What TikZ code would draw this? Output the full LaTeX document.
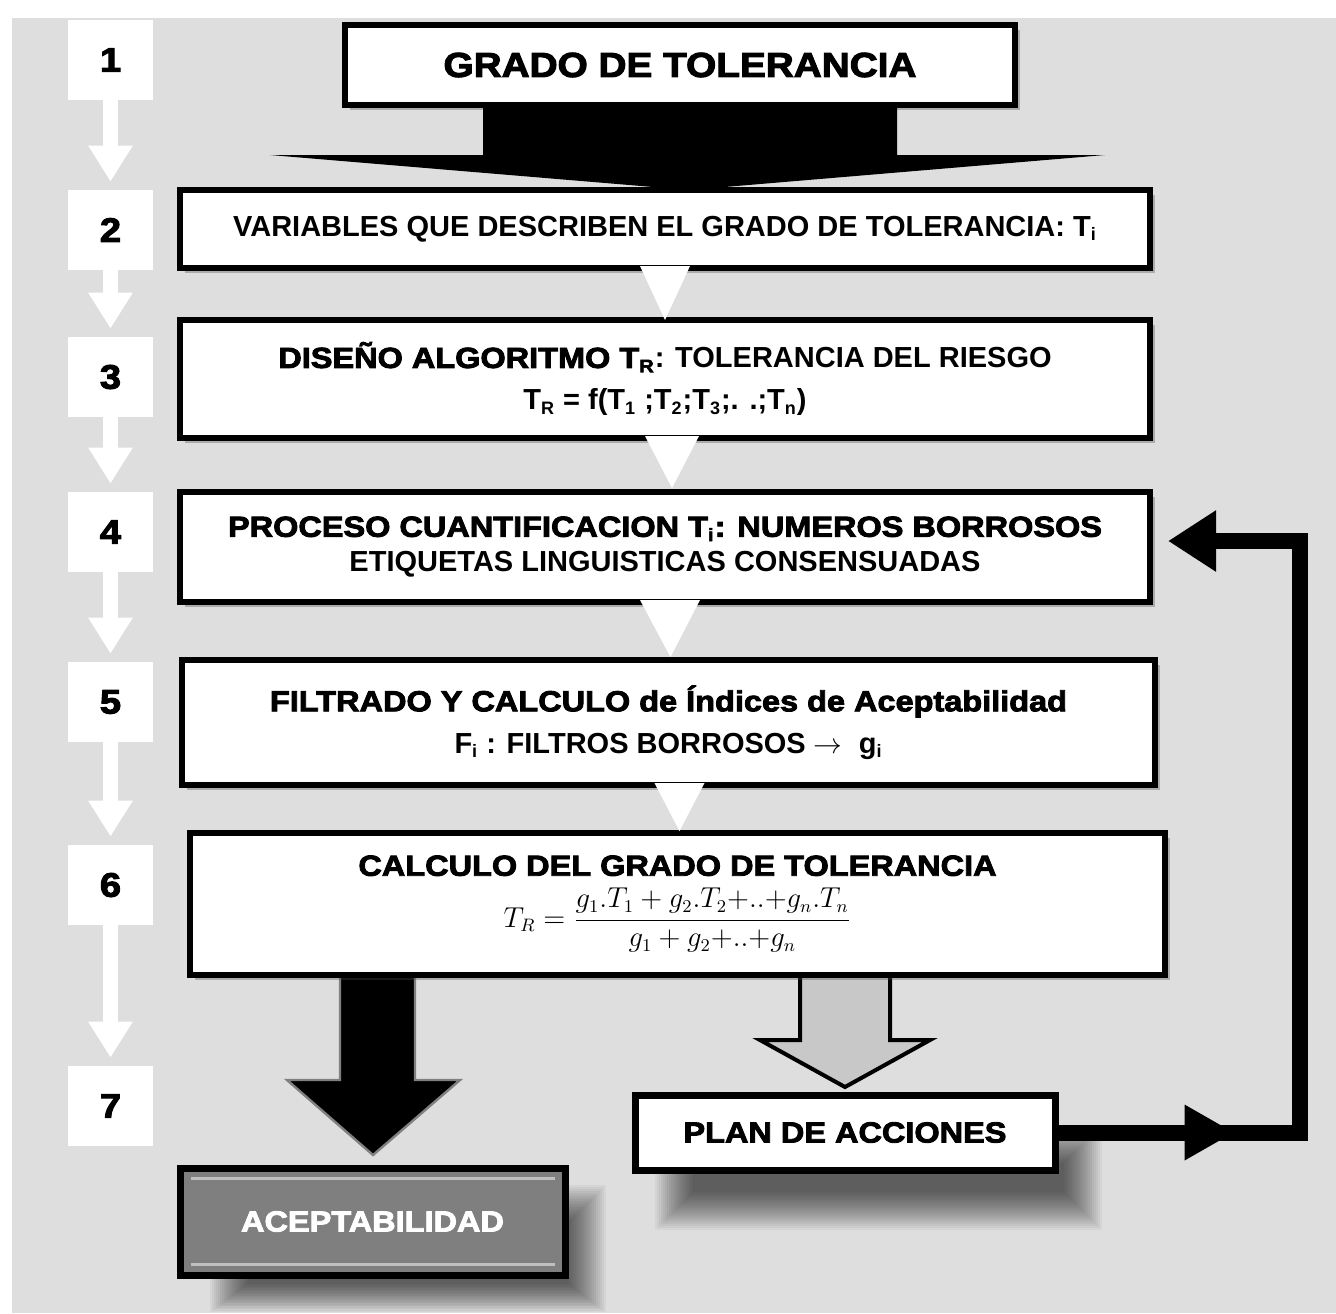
\documentclass[tikz,border=0pt]{standalone}
\usepackage{fontspec}
\setmainfont{Liberation Sans}
\newfontfamily\heavyfont{Liberation Sans}[BoldFeatures={FakeBold=3,FakeStretch=1.12}]
\usetikzlibrary{arrows.meta,shadows,calc}
\definecolor{bg}{HTML}{DEDEDE}
\definecolor{lightarrow}{HTML}{C8C8C8}
\definecolor{aceptgray}{HTML}{7F7F7F}
\newcommand{\hv}{\heavyfont\bfseries}
\newcommand{\sub}[1]{\textsubscript{\fontsize{9}{10}\selectfont #1}}
\begin{document}
\begin{tikzpicture}[x=0.5pt,y=-0.5pt,
  numbox/.style={fill=white, minimum width=42.5pt, minimum height=40pt, inner sep=0pt,
    font=\hv\fontsize{17}{20}\selectfont},
  mainbox/.style={draw=black, line width=3pt, fill=white, inner sep=0pt, align=center,
    drop shadow={shadow xshift=2.5pt, shadow yshift=-2.5pt, opacity=0.35, fill=black!70}},
  sidearrow/.style={draw=white, line width=7.5pt, -{Triangle[width=21pt,length=18pt]}, shorten >=4pt},
  tri/.style={fill=white},
  txt/.style={font=\bfseries\fontsize{14.5}{21}\selectfont},
  fb/.style={draw=black, line width=8pt, line join=miter, -{Triangle[width=29pt,length=24pt]}},
  softshadow/.style={fill=black, opacity=0.04}
]
\useasboundingbox (0,0) rectangle (1336,1313);
\fill[white] (0,0) rectangle (1336,1313);
\fill[bg] (12,18) rectangle (1336,1313);

% step numbers
\node[numbox] (n1) at (110.5,60) {1};
\node[numbox] (n2) at (110.5,230) {2};
\node[numbox] (n3) at (110.5,377) {3};
\node[numbox] (n4) at (110.5,532) {4};
\node[numbox] (n5) at (110.5,702) {5};
\node[numbox] (n6) at (110.5,885) {6};
\node[numbox] (n7) at (110.5,1106) {7};
\draw[sidearrow] (n1.south) -- (n2.north);
\draw[sidearrow] (n2.south) -- (n3.north);
\draw[sidearrow] (n3.south) -- (n4.north);
\draw[sidearrow] (n4.south) -- (n5.north);
\draw[sidearrow] (n5.south) -- (n6.north);
\draw[sidearrow] (n6.south) -- (n7.north);

% box 1
\node[mainbox, minimum width=335pt, minimum height=40pt] (b1) at (680,65)
  {\hv\fontsize{17.3}{20}\selectfont GRADO DE TOLERANCIA};
% big black arrow
\fill[black] ($(b1.south)+(-197,-6)$) -- ($(b1.south)+(217,-6)$) -- ($(b1.south)+(217,47)$)
  -- ($(b1.south)+(425,47)$) -- ($(b1.south)+(9,82)$) -- ($(b1.south)+(-410,47)$)
  -- ($(b1.south)+(-197,47)$) -- cycle;

% soft shadows of bottom boxes (drawn first)
\foreach \i in {0,...,19} {
  \fill[softshadow] (655+2*\i,1125+2*\i) rectangle (1102-2*\i,1230-2*\i);
  \fill[softshadow] (210+2*\i,1185+2*\i) rectangle (606-2*\i,1312-1.5*\i);
}

% arrows from box 6
\filldraw[fill=black, draw=black!50, line width=1.2pt] (340,960) -- (415,960) -- (415,1080) -- (460,1080)
  -- (373,1155) -- (287,1080) -- (340,1080) -- cycle;
\filldraw[fill=lightarrow, draw=black, line width=2pt] (800,960) -- (890,960) -- (890,1040) -- (930,1040)
  -- (845,1087) -- (760,1040) -- (800,1040) -- cycle;

\node[mainbox, minimum width=485pt, minimum height=39pt] (b2) at (665,229)
  {\bfseries\fontsize{14.5}{17}\selectfont VARIABLES QUE DESCRIBEN EL GRADO DE TOLERANCIA: T\sub{i}};
\node[mainbox, minimum width=485pt, minimum height=59pt, txt] (b3) at (665,379)
  {{\hv DISEÑO ALGORITMO T\sub{R}}: TOLERANCIA DEL RIESGO\\
   T\sub{R} = f(T\sub{1} ;T\sub{2};T\sub{3};. .;T\sub{n})};
\node[mainbox, minimum width=485pt, minimum height=55pt, txt, font=\bfseries\fontsize{14.5}{17.5}\selectfont] (b4) at (665,547)
  {{\hv PROCESO CUANTIFICACION T\sub{i}: NUMEROS BORROSOS}\\
   ETIQUETAS LINGUISTICAS CONSENSUADAS};
\node[mainbox, minimum width=486.5pt, minimum height=62.5pt, txt] (b5) at (668.5,722.5)
  {{\hv FILTRADO Y CALCULO de Índices de Aceptabilidad}\\
   F\sub{i} : FILTROS BORROSOS $\rightarrow$\ \ g\sub{i}};
\node[mainbox, minimum width=487.5pt, minimum height=71pt, txt, font=\bfseries\fontsize{14.5}{16}\selectfont] (b6) at (677.5,904)
  {{\hv CALCULO DEL GRADO DE TOLERANCIA}\\[5pt]
   {\fontsize{13.5}{15}\selectfont$\displaystyle T_R=\frac{g_1.T_1+g_2.T_2{+}..{+}g_n.T_n}{g_1+g_2{+}..{+}g_n}$}};

% white triangles between boxes
\fill[tri] ($(b2.south)+(-25,-5)$) -- ($(b2.south)+(25,-5)$) -- ($(b3.north)+(0,3)$) -- cycle;
\fill[tri] ($(b3.south)+(-20,-5)$) -- ($(b3.south)+(34,-5)$) -- ($(b3.north)+(7,171)$) -- cycle;
\fill[tri] ($(b4.south)+(-25,-5)$) -- ($(b4.south)+(35,-5)$) -- ($(b5.north)+(2,0)$) -- cycle;
\fill[tri] ($(b5.south)+(-14,-5)$) -- ($(b5.south)+(36,-5)$) -- ($(b6.north)+(2,1)$) -- cycle;

% bottom boxes
\node[draw=black, line width=3.5pt, fill=white, minimum width=210pt, minimum height=37.5pt, inner sep=0pt,
  font=\hv\fontsize{14.5}{17}\selectfont] (plan) at (845,1132.5) {PLAN DE ACCIONES};
\node[draw=black, line width=3.5pt, fill=aceptgray, minimum width=192.5pt, minimum height=53.5pt, inner sep=0pt,
  text=white, font=\hv\fontsize{14.5}{17}\selectfont] (acept) at (372.5,1221.5) {ACEPTABILIDAD};
\draw[black!25, line width=1.5pt] ($(acept.north west)+(14,14)$) -- ($(acept.north east)+(-14,14)$);
\draw[black!25, line width=1.5pt] ($(acept.south west)+(14,-14)$) -- ($(acept.south east)+(-14,-14)$);

% feedback loop
\coordinate (fbend) at ($(b4.east)+(15,-6)$);
\draw[fb] (plan.east) -| ($(fbend)+(132,0)$) -- (fbend);
\fill[black] ($(plan.east)+(126,-28)$) -- ($(plan.east)+(175,0)$) -- ($(plan.east)+(126,28)$) -- cycle;
\end{tikzpicture}
\end{document}
